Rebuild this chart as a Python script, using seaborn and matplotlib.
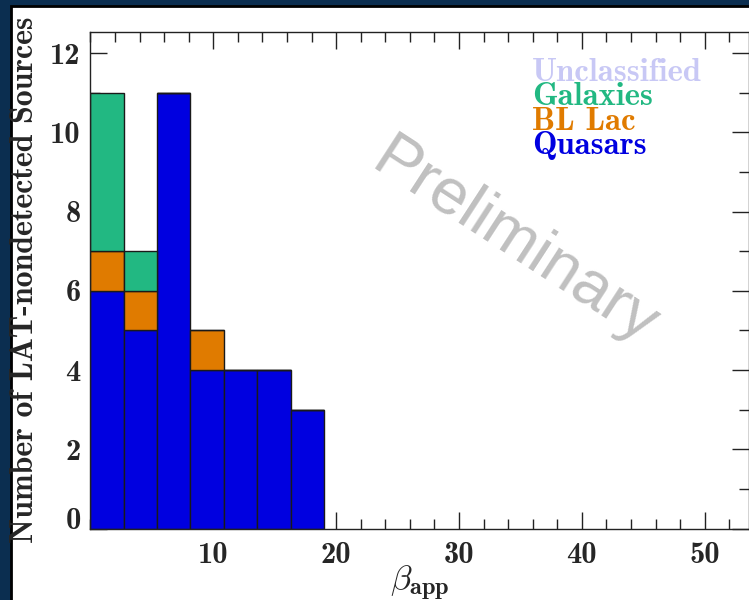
import os
import matplotlib
matplotlib.use("Agg")
import matplotlib.pyplot as plt
from matplotlib import font_manager
from matplotlib.patches import Rectangle
from matplotlib.lines import Line2D
from matplotlib.ticker import MultipleLocator
from matplotlib.transforms import ScaledTranslation
import numpy as np
import pandas as pd
import seaborn as sns

# bin edges of the beta_app histogram
bin_edges = [0.0, 2.714, 5.429, 8.143, 10.857, 13.571, 16.286, 19.0]

# counts per bin for each class
quasars = [6, 5, 11, 4, 4, 4, 3]
bl_lac = [1, 1, 0, 1, 0, 0, 0]
galaxies = [4, 1, 0, 0, 0, 0, 0]

legend_labels = ["Unclassified", "Galaxies", "BL Lac", "Quasars"]
colors = {"Unclassified": "#c8c8f5", "Galaxies": "#22b882",
          "BL Lac": "#e07b00", "Quasars": "#0000e0"}

xticks = [10, 20, 30, 40, 50]
yticks = [0, 2, 4, 6, 8, 10, 12]

# long-form table for seaborn
centers = [(a + b) / 2 for a, b in zip(bin_edges[:-1], bin_edges[1:])]
rows = []
for name, counts in [("Galaxies", galaxies), ("BL Lac", bl_lac), ("Quasars", quasars)]:
    for c, n in zip(centers, counts):
        if n > 0:
            rows.append({"beta": c, "count": n, "cls": name})
df = pd.DataFrame(rows)

sns.set_style("ticks")
cm_path = os.path.join(matplotlib.get_data_path(), "fonts", "ttf", "cmb10.ttf")
font_manager.fontManager.addfont(cm_path)
plt.rcParams["font.family"] = ["cmb10", "DejaVu Serif"]
plt.rcParams["mathtext.fontset"] = "cm"
plt.rcParams["axes.unicode_minus"] = False

fig = plt.figure(figsize=(7.49, 6.0), dpi=100)
fig.patch.set_facecolor("#0b2e50")
fig.patches.append(Rectangle((11 / 749, -0.1), 1.2, 1.1 - 6 / 600,
                             transform=fig.transFigure, facecolor="white",
                             edgecolor="black", linewidth=2, zorder=-10))

ax = fig.add_axes([90.4 / 749, 71.5 / 600, 1 - 90.4 / 749, 497 / 600])
ax.set_zorder(1)
sns.histplot(data=df, x="beta", weights="count", hue="cls",
             hue_order=["Galaxies", "BL Lac", "Quasars"], palette=colors,
             bins=bin_edges, multiple="stack", alpha=1, edgecolor="#1a1a1a",
             linewidth=1, legend=False, ax=ax)

ax.set_xlim(0, 53.6)
ax.set_ylim(0, 12.55)
ax.set_xticks(xticks)
ax.set_yticks(yticks)
ax.xaxis.set_minor_locator(MultipleLocator(2))
ax.yaxis.set_minor_locator(MultipleLocator(1))
ax.tick_params(which="both", direction="in", top=True, right=True,
               width=1, color="#222222", labelsize=22)
ax.tick_params(which="major", length=12)
ax.tick_params(which="minor", length=7)
ax.tick_params(axis="x", pad=10)
ax.tick_params(axis="y", pad=7)
for s in ax.spines.values():
    s.set_linewidth(1)
    s.set_color("#222222")
lab0 = ax.get_yticklabels()[0]
lab0.set_transform(lab0.get_transform() + ScaledTranslation(0, 0.1, fig.dpi_scale_trans))

ax.set_xlabel(r"$\beta_{\mathbf{app}}$", fontsize=25, labelpad=-4)
ax.set_ylabel("Number of LAT-nondetected Sources", fontsize=23, labelpad=8)

handles = [Line2D([], [], linestyle="none") for _ in legend_labels]
ax.legend(handles, legend_labels, loc="upper left",
          bbox_to_anchor=(0.6705, 0.947), frameon=False, handlelength=0,
          handletextpad=0, borderpad=0, borderaxespad=0, labelspacing=-0.14,
          fontsize=23.5, labelcolor=[colors[k] for k in legend_labels])

ax.text(0.645, 0.576, "Preliminary", transform=ax.transAxes, rotation=-33,
        ha="center", va="center", fontsize=47, color="#c0c0c0",
        family="Liberation Sans")

fig.savefig("out.png", dpi=100, facecolor=fig.get_facecolor())
